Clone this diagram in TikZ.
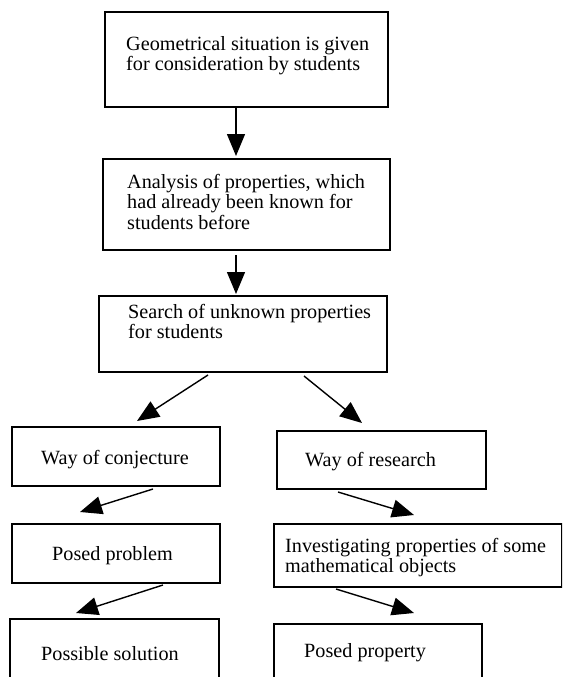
\documentclass[tikz,border=0pt]{standalone}
\usepackage{fontspec}
\setmainfont{Liberation Serif}
\usetikzlibrary{arrows.meta}
\begin{document}
\begin{tikzpicture}[x=1pt,y=-1pt,
  box/.style={draw=black,line width=1.8pt,inner sep=0pt,anchor=north west},
  txt/.style={anchor=base west,inner sep=0pt,font=\fontsize{20.2}{20.5}\selectfont},
  arr/.style={line width=1.4pt,-{Triangle[length=22pt,width=18pt]}}]
\useasboundingbox (0,0) rectangle (562,677);
\clip (0,0) rectangle (562,677);
% boxes
\node[box,minimum width=283pt,minimum height=95pt] (b1) at (104,11) {};
\node[box,minimum width=287pt,minimum height=91pt] (b2) at (102,158) {};
\node[box,minimum width=288pt,minimum height=76pt] (b3) at (98,295) {};
\node[box,minimum width=208pt,minimum height=59pt] (b4l) at (11,426) {};
\node[box,minimum width=209pt,minimum height=58pt] (b4r) at (276,430) {};
\node[box,minimum width=208pt,minimum height=59pt] (b5l) at (11,523) {};
\node[box,minimum width=288pt,minimum height=63pt] (b5r) at (273,523) {};
\node[box,minimum width=209pt,minimum height=90pt] (b6l) at (9,618) {};
\node[box,minimum width=208pt,minimum height=90pt] (b6r) at (273,623) {};
% texts
\node[txt] (t1a) at (126,50.7) {Geometrical situation is given};
\node[txt] (t1b) at (126,70.7) {for consideration by students};
\node[txt] (t2a) at (127,188.3) {Analysis of properties, which};
\node[txt] (t2b) at (127,208.8) {had already been known for};
\node[txt] (t2c) at (127,229.3) {students before};
\node[txt] (t3a) at (128,318) {Search of unknown properties};
\node[txt] (t3b) at (128,338) {for students};
\node[txt] (t4l) at (41,464) {Way of conjecture};
\node[txt] (t4r) at (305,466) {Way of research};
\node[txt] (t5l) at (52,560) {Posed problem};
\node[txt] (t5ra) at (285,552) {Investigating properties of some};
\node[txt] (t5rb) at (285,572) {mathematical objects};
\node[txt] (t6l) at (41,660) {Possible solution};
\node[txt] (t6r) at (304,657) {Posed property};
% arrow end points
\coordinate (a1s) at (236,106); \coordinate (a1e) at (236,156);
\coordinate (a2s) at (236,255); \coordinate (a2e) at (236,294);
\coordinate (a3ls) at (208,375); \coordinate (a3le) at (137,421);
\coordinate (a3rs) at (304,376); \coordinate (a3re) at (362,423);
\coordinate (a4ls) at (153,489); \coordinate (a4le) at (80,512);
\coordinate (a4rs) at (338,492); \coordinate (a4re) at (414,515);
\coordinate (a5ls) at (163,585); \coordinate (a5le) at (76,613);
\coordinate (a5rs) at (336,589); \coordinate (a5re) at (414,613);
\draw[arr] (a1s) -- (a1e);
\draw[arr] (a2s) -- (a2e);
\draw[arr] (a3ls) -- (a3le);
\draw[arr] (a3rs) -- (a3re);
\draw[arr] (a4ls) -- (a4le);
\draw[arr] (a4rs) -- (a4re);
\draw[arr] (a5ls) -- (a5le);
\draw[arr] (a5rs) -- (a5re);
\end{tikzpicture}
\end{document}
